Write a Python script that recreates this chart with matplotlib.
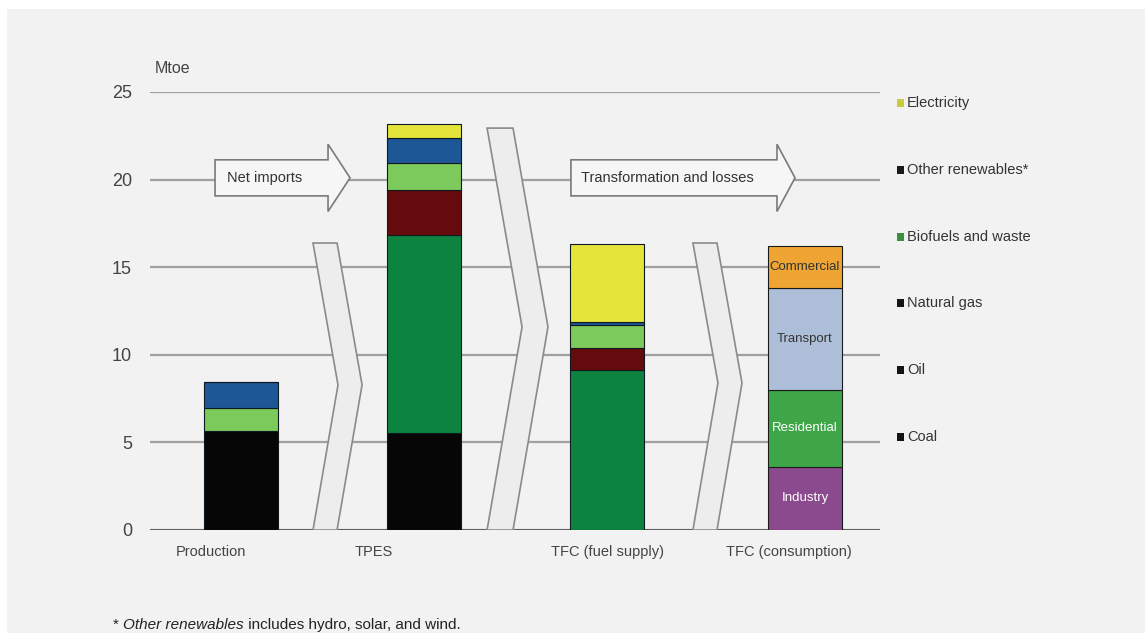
import numpy as np
import matplotlib
matplotlib.use("Agg")
import matplotlib.pyplot as plt
from matplotlib.patches import Polygon, Rectangle

plt.rcParams['font.family'] = ['Liberation Sans', 'DejaVu Sans']

# energy balance, Mtoe
stages = ["Production", "TPES", "TFC (fuel supply)", "TFC (consumption)"]
fuels = ["Coal", "Oil", "Natural gas", "Biofuels and waste", "Other renewables*", "Electricity"]
coal = [5.65, 5.55, 0.0]
oil = [0.0, 11.3, 9.15]
natural_gas = [0.0, 2.55, 1.25]
biofuels = [1.3, 1.55, 1.3]
other_renewables = [1.5, 1.4, 0.2]
electricity = [0.0, 0.85, 4.4]
sectors = ["Industry", "Residential", "Transport", "Commercial"]
sector_values = [3.6, 4.4, 5.8, 2.4]
yticks = [0, 5, 10, 15, 20, 25]

fuel_colors = ["#060606", "#0c8440", "#650b0d", "#7cc95c", "#1e5796", "#e4e53a"]
legend_marks = ["#141414", "#141414", "#141414", "#3c8f3c", "#1a1a1a", "#c8cc3a"]
sector_colors = ["#8c4a8e", "#3ea646", "#adbfd8", "#eea534"]
sector_text = ["white", "white", "#333333", "#333333"]

W, H = 1145, 633
fig = plt.figure(figsize=(W / 100, H / 100), dpi=100, facecolor="white")
fig.patches.append(Rectangle((7 / W, 0), 1, (H - 9) / H, transform=fig.transFigure,
                             facecolor="#f2f2f2", edgecolor="none", zorder=-10))

ax = fig.add_axes([150 / W, (H - 530) / H, 730 / W, 438 / H])
ax.set_facecolor("none")

xpos = np.array([0, 0.973, 1.947, 3.0])
label_pos = [-0.16, 0.707, 1.947, 2.915]
width = 0.39

# stacked fuels for the first three bars
stack = [coal, oil, natural_gas, biofuels, other_renewables, electricity]
bottom = np.zeros(3)
for vals, col in zip(stack, fuel_colors):
    vals = np.array(vals)
    ax.bar(xpos[:3], vals, width, bottom=bottom, color=col,
           edgecolor="#101820", linewidth=0.8, zorder=3)
    bottom += vals

# consumption by sector
b = 0.0
for name, v, col, tc in zip(sectors, sector_values, sector_colors, sector_text):
    ax.bar(xpos[3], v, width, bottom=b, color=col, edgecolor="#1a1a1a", linewidth=0.8, zorder=3)
    ax.text(xpos[3], b + v / 2, name, ha="center", va="center", fontsize=9.5, color=tc, zorder=4)
    b += v

ax.set_xlim(-0.484, 3.399)
ax.set_ylim(0, 25)
ax.set_yticks(yticks)
ax.set_yticklabels([str(t) for t in yticks], fontsize=13, color="#444444")
ax.set_xticks(label_pos)
ax.set_xticklabels(stages, fontsize=10.5, color="#444444")
ax.tick_params(axis="both", length=0)
ax.tick_params(axis="y", pad=13)
ax.tick_params(axis="x", pad=11)
for s in ax.spines.values():
    s.set_visible(False)
ax.set_axisbelow(True)
ax.yaxis.grid(True, color="#a0a0a0", linewidth=1.6)
ax.axhline(0, color="#5a5a5a", linewidth=2, zorder=1.5)
ax.text(-0.46, 25.9, "Mtoe", fontsize=11.5, color="#444444", va="bottom")


def chevron(x0, w, shift, top, tip):
    pts = [(x0, top), (x0 + w, top), (x0 + w + shift, tip), (x0 + w, 0),
           (x0, 0), (x0 + shift, tip)]
    ax.add_patch(Polygon(pts, closed=True, facecolor="#ededed", edgecolor="#8a8a8a",
                         linewidth=1.2, zorder=2))


def block_arrow(x0, xh, xt, y, half_body, half_head, label, lx):
    pts = [(x0, y - half_body), (xh, y - half_body), (xh, y - half_head), (xt, y),
           (xh, y + half_head), (xh, y + half_body), (x0, y + half_body)]
    ax.add_patch(Polygon(pts, closed=True, facecolor="#f6f6f6", edgecolor="#7a7a7a",
                         linewidth=1.2, zorder=2))
    ax.text(lx, y, label, ha="center", va="center", fontsize=10.5, color="#333333", zorder=4)


chevron(0.383, 0.128, 0.133, 16.38, 8.28)
chevron(1.309, 0.138, 0.186, 22.94, 11.59)
chevron(2.404, 0.128, 0.133, 16.38, 8.39)

block_arrow(-0.138, 0.463, 0.580, 20.1, 1.03, 1.92, "Net imports", 0.128)
block_arrow(1.755, 2.851, 2.947, 20.1, 1.03, 1.92, "Transformation and losses", 2.266)

# legend, top entry first
for yp, name, mc in zip(np.linspace(103, 437, 6), fuels[::-1], legend_marks[::-1]):
    fig.patches.append(Rectangle((897 / W, (H - yp - 4) / H), 7 / W, 8 / H,
                                 transform=fig.transFigure, facecolor=mc, edgecolor="none"))
    fig.text(907 / W, (H - yp) / H, name, fontsize=10.5, color="#333333", va="center")

# footnote with italic term
t1 = fig.text(113 / W, 4 / H, "* ", fontsize=11, color="#222222", va="baseline")
t2 = fig.text(0, 0, "Other renewables", fontsize=11, color="#222222", style="italic",
              va="baseline")
t3 = fig.text(0, 0, " includes hydro, solar, and wind.", fontsize=11, color="#222222",
              va="baseline")
fig.canvas.draw()
r = fig.canvas.get_renderer()
x = t1.get_window_extent(r).x1
t2.set_position((x / W, 4 / H))
x = t2.get_window_extent(r).x1
t3.set_position((x / W, 4 / H))

fig.savefig("out.png", dpi=100, facecolor=fig.get_facecolor())
